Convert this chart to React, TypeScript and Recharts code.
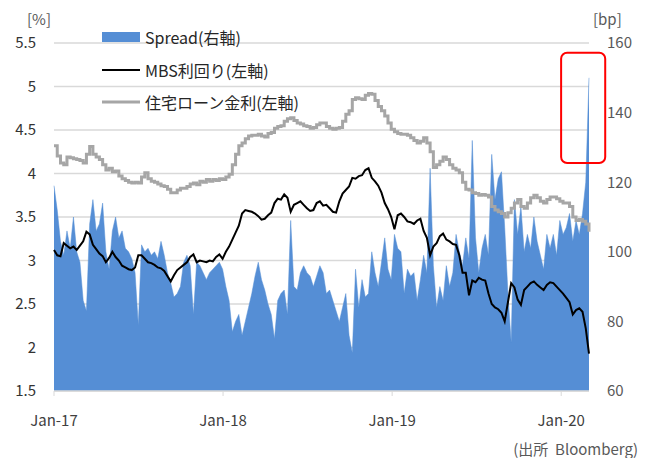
import { Area, CartesianGrid, ComposedChart, Legend, Line, ReferenceArea, XAxis, YAxis } from "recharts"

const FONT = "'Noto Sans CJK JP', 'Noto Sans', sans-serif"

// weekly readings, first week of Jan 2017 through early Mar 2020
const spreadBp = [
  119, 112, 103, 99, 106, 101, 110, 100, 97, 86,
  83, 108, 115, 106, 108, 114, 100, 95, 106, 110,
  104, 106, 101, 100, 98, 94, 79, 102, 100, 101,
  99, 100, 98, 103, 99, 94, 91, 87, 88, 90,
  97, 99, 96, 82, 97, 96, 94, 92, 94, 95,
  96, 97, 95, 90, 86, 77, 80, 82, 76, 80,
  84, 88, 93, 97, 92, 89, 85, 82, 75, 86,
  88, 89, 82, 109, 90, 89, 94, 96, 94, 93,
  90, 93, 96, 94, 88, 89, 86, 83, 80, 84,
  88, 76, 71, 95, 84, 92, 87, 88, 100, 94,
  90, 97, 104, 95, 92, 105, 101, 100, 88, 95,
  93, 94, 86, 92, 99, 94, 124, 96, 84, 90,
  86, 96, 90, 94, 105, 100, 96, 104, 98, 132,
  104, 94, 101, 105, 99, 128, 115, 121, 123, 107,
  88, 74, 115, 105, 113, 100, 105, 101, 110, 103,
  99, 95, 105, 101, 105, 99, 109, 105, 107, 111,
  103, 109, 105, 111, 120, 150,
]

const mbsYield = [
  3.12, 3.06, 3.05, 3.2, 3.17, 3.14, 3.16, 3.12, 3.17, 3.22,
  3.33, 3.3, 3.18, 3.13, 3.08, 3.05, 2.98, 3.03, 3.1, 3.04,
  3.0, 2.94, 2.92, 2.9, 2.89, 2.92, 3.06, 3.06, 3.02, 2.98,
  2.97, 2.95, 2.92, 2.91, 2.88, 2.82, 2.76, 2.83, 2.89, 2.92,
  2.95, 2.98, 3.04, 3.07, 2.98, 3.0, 2.99, 2.98, 3.0, 2.99,
  3.04, 3.07, 3.02, 3.1, 3.16, 3.24, 3.32, 3.4, 3.54, 3.58,
  3.57, 3.56, 3.54, 3.51, 3.47, 3.48, 3.52, 3.55, 3.66, 3.71,
  3.7, 3.76, 3.72, 3.56, 3.64, 3.66, 3.68, 3.64, 3.6, 3.57,
  3.58, 3.66, 3.68, 3.63, 3.64, 3.6, 3.56, 3.55, 3.68, 3.77,
  3.81, 3.85, 3.95, 3.94, 3.97, 3.98, 4.04, 4.06, 3.95, 3.91,
  3.86, 3.78, 3.66, 3.59, 3.5, 3.36, 3.52, 3.54, 3.5, 3.45,
  3.44, 3.42, 3.46, 3.48, 3.34, 3.26, 3.06, 3.16, 3.2, 3.28,
  3.31, 3.24, 3.22, 3.19, 3.18, 3.06, 2.86, 2.86, 2.6, 2.77,
  2.75, 2.8, 2.78, 2.77, 2.62, 2.5, 2.46, 2.44, 2.4, 2.3,
  2.52, 2.74, 2.69, 2.55, 2.49, 2.66, 2.7, 2.74, 2.76, 2.72,
  2.69, 2.66, 2.72, 2.75, 2.74, 2.7, 2.66, 2.62, 2.57, 2.52,
  2.38, 2.43, 2.45, 2.41, 2.22, 1.93,
]

const mortgageRate = [
  4.32, 4.2, 4.12, 4.1, 4.19, 4.18, 4.17, 4.16, 4.15, 4.12,
  4.22, 4.31, 4.22, 4.19, 4.16, 4.1, 4.04, 4.06, 4.02, 4.03,
  3.97, 3.94, 3.92, 3.9, 3.89, 3.9, 3.89, 3.96, 4.01, 3.94,
  3.91, 3.9, 3.88, 3.86, 3.85, 3.82, 3.78, 3.78, 3.81, 3.83,
  3.83, 3.85, 3.88, 3.89, 3.87, 3.91, 3.9, 3.93, 3.91, 3.93,
  3.92, 3.94, 3.93, 3.96, 3.99, 4.1, 4.22, 4.32, 4.35, 4.4,
  4.43, 4.44, 4.44, 4.45, 4.43, 4.42, 4.46, 4.47, 4.52, 4.54,
  4.55, 4.6, 4.63, 4.64, 4.61, 4.58, 4.57, 4.55, 4.54, 4.52,
  4.53, 4.56, 4.58, 4.58, 4.54, 4.52, 4.51, 4.52, 4.53, 4.6,
  4.68, 4.72, 4.85, 4.87, 4.86, 4.85, 4.9, 4.92, 4.91, 4.84,
  4.77, 4.72, 4.66, 4.58, 4.51, 4.48, 4.46, 4.45, 4.45, 4.44,
  4.41, 4.38, 4.35, 4.37, 4.41, 4.35, 4.25, 4.07, 4.1, 4.14,
  4.19, 4.16, 4.1, 4.06, 4.04, 4.01, 3.9, 3.82, 3.81, 3.78,
  3.77, 3.75, 3.76, 3.75, 3.73, 3.62, 3.58, 3.56, 3.54, 3.5,
  3.55, 3.6, 3.66, 3.7, 3.62, 3.6, 3.66, 3.72, 3.75, 3.72,
  3.68, 3.66, 3.7, 3.73, 3.73, 3.71, 3.68, 3.66, 3.66, 3.62,
  3.5, 3.46, 3.47, 3.45, 3.42, 3.33,
]

// year starts, in weeks since 1 Jan 2017
const yearTicks = [0, 52.14, 104.29, 156.43]
const yearLabels = ["Jan-17", "Jan-18", "Jan-19", "Jan-20"]
const leftTicks = [1.5, 2, 2.5, 3, 3.5, 4, 4.5, 5, 5.5]
const rightTicks = [60, 80, 100, 120, 140, 160]

// highlighted window around the March 2020 spread jump (weeks, bp)
const highlightWeeks = [156.4, 170]
const highlightBp = [125.5, 157.2]

const legendOrder = ["spread", "mbs", "mortgage"]

const data = spreadBp.map((spread, i) => ({
  week: i,
  spread,
  mbs: mbsYield[i],
  mortgage: mortgageRate[i],
}))

const SPREAD_BLUE = "#558ED5"

function renderLegend(props: any) {
  const items = props.payload ?? []
  return (
    <div style={{ fontFamily: FONT, fontSize: 16, color: "#262626" }}>
      {items.map((entry: any) => (
        <div key={entry.value} style={{ display: "flex", alignItems: "center", height: 32.5 }}>
          <svg width={38} height={12} style={{ marginRight: 5 }}>
            {entry.type === "rect" ? (
              <rect x={0} y={1} width={38} height={10} fill={entry.color} />
            ) : (
              <line x1={0} x2={38} y1={6} y2={6} stroke={entry.color} strokeWidth={entry.dataKey === "mortgage" ? 3 : 2} />
            )}
          </svg>
          <span>{entry.value}</span>
        </div>
      ))}
    </div>
  )
}

function UnitLabel({ viewBox, text, dx }: any) {
  return (
    <text x={viewBox.x + dx} y={viewBox.y - 18} fill="#595959" fontSize={15} fontFamily={FONT}>
      {text}
    </text>
  )
}

function HighlightBox(props: any) {
  const { x, y, width, height } = props
  return <rect x={x} y={y} width={width} height={height} rx={6} ry={6} fill="none" stroke="#FF0000" strokeWidth={2} />
}

export default function App() {
  return (
    <div style={{ position: "absolute", left: 0, top: 0, width: 651, height: 458, background: "#fff" }}>
      <ComposedChart width={651} height={458} data={data} margin={{ top: 43, right: 0, bottom: 0, left: 0 }}>
        <CartesianGrid yAxisId="left" vertical={false} stroke="#d9d9d9" strokeWidth={1.5} />
        <XAxis
          dataKey="week"
          type="number"
          domain={[0, 165]}
          ticks={yearTicks}
          tickFormatter={(v: number) => yearLabels[yearTicks.indexOf(v)] ?? ""}
          height={67}
          axisLine={{ stroke: "#d9d9d9", strokeWidth: 1.5 }}
          tickLine={{ stroke: "#d9d9d9" }}
          tickSize={5}
          tickMargin={19}
          tick={{ fill: "#404040", fontSize: 15, fontFamily: FONT }}
        />
        <YAxis
          yAxisId="left"
          domain={[1.5, 5.5]}
          ticks={leftTicks}
          width={54}
          axisLine={false}
          tickLine={false}
          tickMargin={12}
          tick={{ fill: "#333333", fontSize: 15, fontFamily: FONT }}
          label={<UnitLabel text="[%]" dx={27} />}
        />
        <YAxis
          yAxisId="right"
          orientation="right"
          domain={[60, 160]}
          ticks={rightTicks}
          width={62}
          axisLine={false}
          tickLine={false}
          tickMargin={12}
          tick={{ fill: "#595959", fontSize: 15, fontFamily: FONT }}
          label={<UnitLabel text="[bp]" dx={4} />}
        />
        <Legend
          layout="vertical"
          verticalAlign="middle"
          align="center"
          itemSorter={(item: any) => legendOrder.indexOf(item.dataKey)}
          wrapperStyle={{ left: 102, top: 21, width: "auto" }}
          content={renderLegend}
        />
        <Area
          yAxisId="right"
          dataKey="spread"
          name="Spread(右軸)"
          type="linear"
          stroke={SPREAD_BLUE}
          strokeWidth={0.5}
          fill={SPREAD_BLUE}
          fillOpacity={1}
          legendType="rect"
          isAnimationActive={false}
        />
        <Line
          yAxisId="left"
          dataKey="mbs"
          name="MBS利回り(左軸)"
          type="linear"
          stroke="#000000"
          strokeWidth={2}
          dot={false}
          isAnimationActive={false}
        />
        <Line
          yAxisId="left"
          dataKey="mortgage"
          name="住宅ローン金利(左軸)"
          type="stepAfter"
          stroke="#a6a6a6"
          strokeWidth={3}
          dot={false}
          isAnimationActive={false}
        />
        <ReferenceArea
          yAxisId="right"
          x1={highlightWeeks[0]}
          x2={highlightWeeks[1]}
          y1={highlightBp[0]}
          y2={highlightBp[1]}
          ifOverflow="visible"
          shape={<HighlightBox />}
        />
      </ComposedChart>
      <div
        style={{
          position: "absolute",
          right: 13,
          top: 438,
          fontFamily: FONT,
          fontSize: 15,
          color: "#595959",
          whiteSpace: "pre",
        }}
      >
        {"(出所  Bloomberg)"}
      </div>
    </div>
  )
}
